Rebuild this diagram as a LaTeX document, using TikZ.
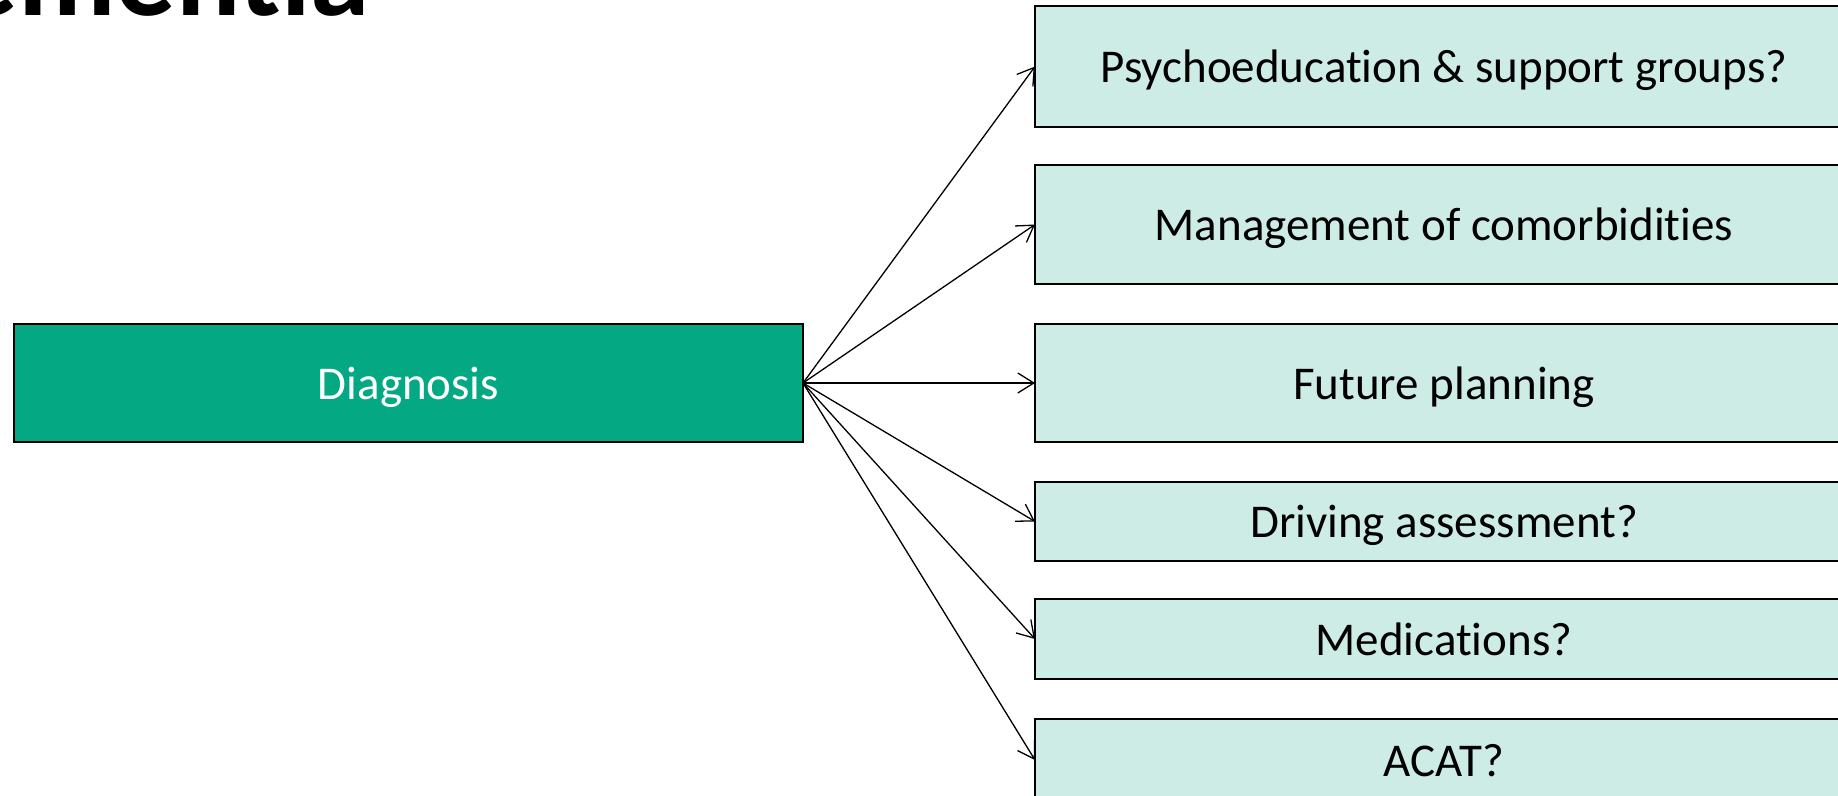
\documentclass[tikz,border=0pt]{standalone}
\usepackage{fontspec}
\setmainfont[Ligatures=NoCommon]{Carlito}
\usetikzlibrary{arrows.meta}
\definecolor{diaggreen}{RGB}{4,169,132}
\definecolor{paleteal}{RGB}{204,236,229}
\tikzset{
  box/.style={draw=black, line width=2.5pt, inner sep=0pt, outer sep=0pt,
    text depth=0pt, font=\fontsize{47}{56}\selectfont},
  mainbox/.style={box, fill=diaggreen, text=white, minimum width=789pt, minimum height=118pt},
  optbox/.style={box, fill=paleteal, text=black, minimum width=818pt},
  link/.style={line width=1.3pt, -{Straight Barb[length=16pt,width=20pt]}}
}
\begin{document}
\begin{tikzpicture}[x=1pt,y=1pt]
\useasboundingbox (0,0) rectangle (1838,-795);
% slide title, mostly above the visible area
\node[anchor=base east, inner sep=0pt, font=\fontsize{120}{144}\selectfont\bfseries] (title) at (370,-15) {Dementia};
% central node
\node[mainbox] (dx) at (408.5,-383) {Diagnosis};
% follow-up options
\node[optbox, minimum height=121pt] (b1) at (1444,-66.5) {Psychoeducation \& support groups?};
\node[optbox, minimum height=119pt] (b2) at (1444,-224.5) {Management of comorbidities};
\node[optbox, minimum height=118pt] (b3) at (1444,-383) {Future planning};
\node[optbox, minimum height=79pt] (b4) at (1444,-521.5) {Driving assessment?};
\node[optbox, minimum height=80pt] (b5) at (1444,-639) {Medications?};
\node[optbox, minimum height=82pt] (b6) at (1444,-760) {ACAT?};
% connectors
\foreach \t in {b1,b2,b3,b4,b5,b6}
  \draw[link] (dx.east) -- (\t.west);
\end{tikzpicture}
\end{document}
